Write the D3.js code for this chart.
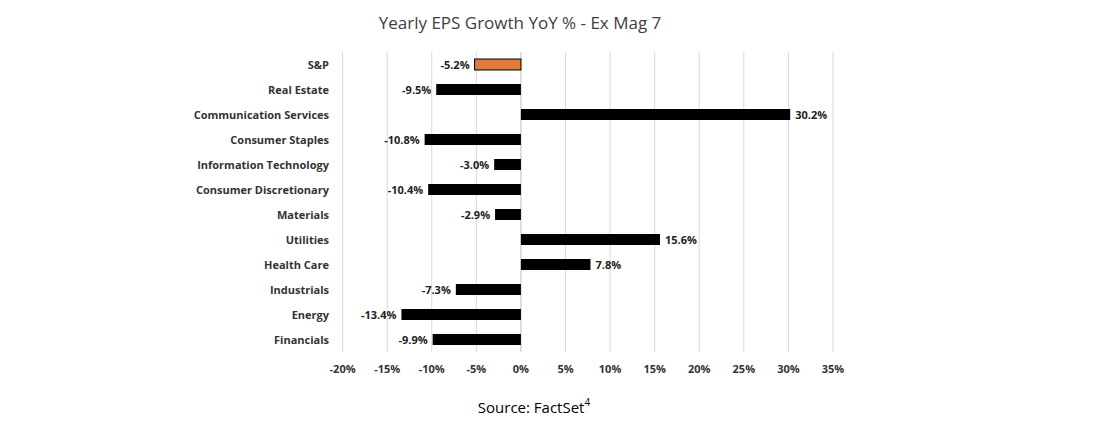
<!DOCTYPE html>
<html><head><meta charset="utf-8">
<script src="https://cdn.jsdelivr.net/npm/d3@7"></script>
<style>body{margin:0;background:#fff}</style></head>
<body><svg id="c" width="1100" height="436"></svg>
<script>
const categories=["S&P","Real Estate","Communication Services","Consumer Staples","Information Technology","Consumer Discretionary","Materials","Utilities","Health Care","Industrials","Energy","Financials"];
const values=[-5.2,-9.5,30.2,-10.8,-3.0,-10.4,-2.9,15.6,7.8,-7.3,-13.4,-9.9];
const ticks=[-20,-15,-10,-5,0,5,10,15,20,25,30,35];
const svg=d3.select("#c");
const x=d3.scaleLinear().domain([-20,35]).range([342.6,833]);
const y=d3.scaleBand().domain(categories).range([52,352]).paddingInner(0.56).paddingOuter(0.28);
const font="'Open Sans', sans-serif";
svg.append("g").selectAll("line").data(ticks).join("line")
 .attr("x1",d=>x(d)).attr("x2",d=>x(d)).attr("y1",52).attr("y2",352)
 .attr("stroke",d=>d===0?"#bfbfbf":"#d9d9d9").attr("stroke-width",1);
svg.append("g").selectAll("rect").data(values).join("rect")
 .attr("x",d=>x(Math.min(0,d))).attr("width",d=>Math.abs(x(d)-x(0)))
 .attr("y",(d,i)=>y(categories[i])).attr("height",y.bandwidth())
 .attr("fill",(d,i)=>i===0?"#e07b39":"#000").attr("stroke","#000").attr("stroke-width",(d,i)=>i===0?1:0);
svg.append("g").selectAll("text").data(values).join("text")
 .attr("x",d=>d<0?x(d)-5:x(d)+5).attr("y",(d,i)=>y(categories[i])+y.bandwidth()/2+4)
 .attr("text-anchor",d=>d<0?"end":"start").attr("font-family",font).attr("font-size",11).attr("font-weight","bold")
 .attr("fill","#222").text(d=>d.toFixed(1)+"%");
svg.append("g").selectAll("text").data(categories).join("text")
 .attr("x",329).attr("y",d=>y(d)+y.bandwidth()/2+4).attr("text-anchor","end")
 .attr("font-family",font).attr("font-size",11).attr("font-weight","bold").attr("fill","#333").text(d=>d);
svg.append("g").selectAll("text").data(ticks).join("text")
 .attr("x",d=>x(d)).attr("y",373).attr("text-anchor","middle")
 .attr("font-family",font).attr("font-size",11).attr("font-weight","bold").attr("fill","#333").text(d=>d+"%");
svg.append("text").attr("x",520).attr("y",29).attr("text-anchor","middle").attr("font-family",font)
 .attr("font-size",17).attr("fill","#404040").text("Yearly EPS Growth YoY % - Ex Mag 7");
const s=svg.append("text").attr("x",534).attr("y",413).attr("text-anchor","middle").attr("font-family",font).attr("font-size",15).attr("fill","#000");
s.append("tspan").text("Source: FactSet");
s.append("tspan").attr("dy",-7).attr("font-size",10).text("4");
</script></body></html>
